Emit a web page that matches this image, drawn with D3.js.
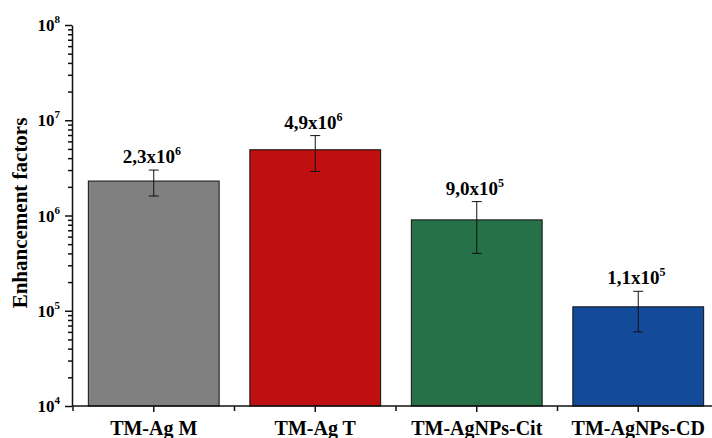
<!DOCTYPE html>
<html><head><meta charset="utf-8">
<script src="https://cdn.jsdelivr.net/npm/d3@7"></script>
<style>body{margin:0;background:#fff}svg{display:block}svg text{font-family:"Liberation Serif","Times New Roman",serif !important;font-weight:bold}</style>
</head><body>
<svg id="c" width="712" height="438"></svg>
<script>
const categories = ["TM-Ag M", "TM-Ag T", "TM-AgNPs-Cit", "TM-AgNPs-CD"];
const values = [2.3e6, 4.9e6, 9.0e5, 1.1e5];
const errors = [0.7e6, 2.0e6, 5.0e5, 5.0e4];
const labelMant = ["2,3", "4,9", "9,0", "1,1"];
const labelExp = ["6", "6", "5", "5"];
const colors = ["#808080", "#c00f10", "#267147", "#144a9a"];
const yTicks = [1e4, 1e5, 1e6, 1e7, 1e8];

const svg = d3.select("#c");
const x = d3.scaleBand().domain(categories).range([73, 719]).paddingInner(0.19).paddingOuter(0.095);
const y = d3.scaleLog().domain([1e4, 1e8]).range([406, 25]);

// bars
svg.selectAll("rect.bar").data(categories).join("rect")
  .attr("x", d => x(d)).attr("width", x.bandwidth())
  .attr("y", (d, i) => y(values[i])).attr("height", (d, i) => y(1e4) - y(values[i]))
  .attr("fill", (d, i) => colors[i]).attr("stroke", "#111").attr("stroke-width", 1);

// error bars
const cx = d => x(d) + x.bandwidth() / 2;
categories.forEach((d, i) => {
  const top = y(values[i] + errors[i]), bot = y(values[i] - errors[i]);
  const g = svg.append("g").attr("stroke", "#111").attr("stroke-width", 1);
  g.append("line").attr("x1", cx(d)).attr("x2", cx(d)).attr("y1", top).attr("y2", bot);
  g.append("line").attr("x1", cx(d) - 5).attr("x2", cx(d) + 5).attr("y1", top).attr("y2", top);
  g.append("line").attr("x1", cx(d) - 5).attr("x2", cx(d) + 5).attr("y1", bot).attr("y2", bot);
  const t = svg.append("text").attr("x", cx(d) - 2).attr("y", top - 7).attr("text-anchor", "middle")
    .attr("font-size", 19).attr("fill", "#000");
  t.append("tspan").text(labelMant[i] + "x10");
  t.append("tspan").attr("font-size", 12).attr("dy", -8).text(labelExp[i]);
});

// y axis
const minor = [];
for (let e = 4; e < 8; e++) for (let m = 2; m <= 9; m++) minor.push(m * Math.pow(10, e));
const yAxis = svg.append("g").attr("transform", "translate(72,0)");
yAxis.call(d3.axisLeft(y).tickValues(yTicks).tickFormat("").tickSize(7).tickSizeOuter(0));
yAxis.append("g").call(d3.axisLeft(y).tickValues(minor).tickFormat("").tickSize(4).tickSizeOuter(0))
  .select(".domain").remove();
yAxis.selectAll("path,line").attr("stroke", "#111").attr("stroke-width", 1.5);
yTicks.forEach(v => {
  const t = yAxis.append("text").attr("x", -12).attr("y", y(v) + 6).attr("text-anchor", "end")
    .attr("font-size", 17).attr("fill", "#000");
  t.append("tspan").text("10");
  t.append("tspan").attr("font-size", 11).attr("dy", -8).text(Math.round(Math.log10(v)));
});

// x axis
const xAxis = svg.append("g").attr("transform", "translate(0,406)");
xAxis.call(d3.axisBottom(x).tickSize(6).tickSizeOuter(0).tickPadding(0));
xAxis.select(".domain").attr("d", "M73,0H719");
const bounds = [73, 234.5, 396, 557.5];
xAxis.selectAll("line.minor").data(bounds).join("line").attr("class", "minor")
  .attr("x1", d => d).attr("x2", d => d).attr("y1", 0).attr("y2", 5);
xAxis.selectAll("path,line").attr("stroke", "#111").attr("stroke-width", 1.5);
xAxis.selectAll("text").attr("font-size", 20).attr("fill", "#000").attr("y", 29).attr("dy", null);

// y title
svg.append("text").attr("transform", "translate(27,213) rotate(-90)").attr("text-anchor", "middle")
  .attr("font-size", 21).attr("fill", "#000").text("Enhancement factors");
</script>
</body></html>
